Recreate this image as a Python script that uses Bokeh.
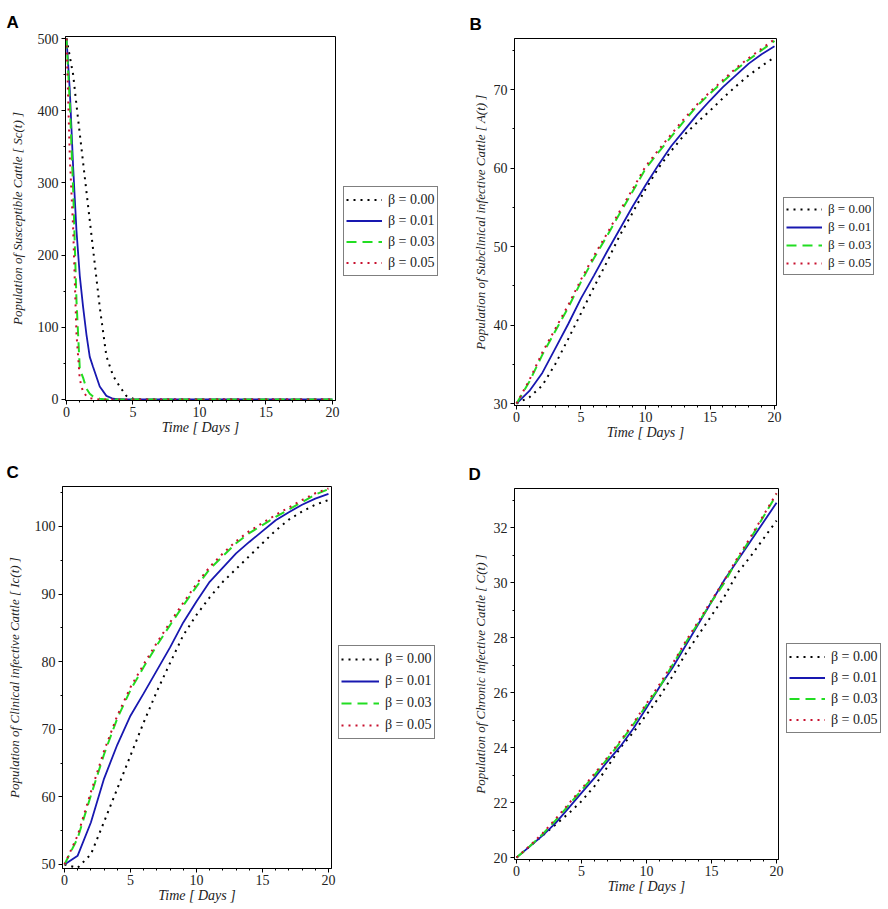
from bokeh.plotting import figure
from bokeh.models import FixedTicker, Legend, LegendItem, Range1d
from bokeh.layouts import column, row
from bokeh.embed import file_html
from bokeh.resources import INLINE

# ---------------- data ----------------
beta_labels = ["β = 0.00", "β = 0.01", "β = 0.03", "β = 0.05"]

# Panel A: susceptible cattle S_c(t)
t_a = [0, 0.25, 0.5, 0.75, 1, 1.25, 1.5, 1.75, 2, 2.5, 3, 3.5, 4, 4.5, 5, 6, 8, 10, 12, 14, 16, 18, 20]
sc_b000 = [500, 475, 450, 408, 368, 328, 288, 248, 208, 128, 60, 33, 18, 5, 1, 0, 0, 0, 0, 0, 0, 0, 0]
sc_b001 = [500, 428, 322, 234, 171, 128, 90, 59, 45, 18, 5, 1, 0.3, 0, 0, 0, 0, 0, 0, 0, 0, 0, 0]
sc_b003 = [500, 410, 291, 137, 42, 30, 15, 8, 4, 1, 0, 0, 0, 0, 0, 0, 0, 0, 0, 0, 0, 0, 0]
sc_b005 = [500, 335, 237, 91, 28, 10, 5, 2, 1, 0, 0, 0, 0, 0, 0, 0, 0, 0, 0, 0, 0, 0, 0]

# Panels B, C, D share a daily time grid
t_d = list(range(21))

# Panel B: subclinical infective A(t)
a_b000 = [30, 30.8, 32.3, 35.0, 38.2, 41.5, 44.8, 48.0, 51.4, 54.3, 57.3, 60.0, 62.2, 64.2, 65.8, 67.3, 68.9, 70.4, 71.8, 73.0, 74.1]
a_b001 = [30, 31.6, 33.9, 37.0, 40.1, 43.4, 46.3, 49.3, 52.2, 55.1, 57.8, 60.4, 62.8, 64.8, 66.8, 68.6, 70.3, 71.8, 73.3, 74.5, 75.5]
a_b003 = [30, 32.8, 36.2, 39.2, 42.2, 45.5, 48.5, 51.3, 54.2, 57.0, 59.9, 62.0, 64.0, 66.0, 67.9, 69.5, 71.0, 72.5, 73.8, 75.0, 76.2]
a_b005 = [30, 33.0, 36.5, 39.5, 42.5, 45.8, 48.8, 51.6, 54.5, 57.3, 60.2, 62.3, 64.3, 66.3, 68.1, 69.7, 71.2, 72.7, 74.0, 75.2, 76.4]

# Panel C: clinical infective I_c(t)
ic_b000 = [50, 49.5, 51.5, 56.3, 61.2, 66.1, 71.0, 75.6, 79.8, 83.9, 86.9, 89.5, 91.8, 93.7, 95.6, 97.5, 99.4, 101.0, 102.2, 103.2, 103.9]
ic_b001 = [50, 51.3, 56.2, 62.7, 67.7, 72.0, 75.3, 78.7, 82.1, 85.8, 88.9, 91.8, 93.9, 96.0, 97.7, 99.3, 100.9, 102.1, 103.2, 104.1, 104.8]
ic_b003 = [50, 53.9, 60.2, 66.3, 71.6, 75.8, 79.2, 82.4, 85.4, 88.3, 91.1, 93.7, 95.6, 97.5, 99.0, 100.2, 101.4, 102.5, 103.6, 104.7, 105.5]
ic_b005 = [50, 54.3, 60.7, 66.8, 72.0, 76.2, 79.6, 82.8, 85.8, 88.7, 91.5, 94.0, 96.0, 97.8, 99.3, 100.5, 101.7, 102.8, 103.9, 104.9, 105.6]

# Panel D: chronic infective C(t)
c_b000 = [20, 20.4, 20.8, 21.2, 21.6, 22.05, 22.6, 23.3, 24.0, 24.56, 25.2, 25.85, 26.6, 27.4, 28.1, 28.8, 29.5, 30.35, 30.95, 31.6, 32.25]
c_b001 = [20, 20.4, 20.8, 21.25, 21.8, 22.35, 22.9, 23.5, 24.05, 24.7, 25.45, 26.2, 26.9, 27.7, 28.5, 29.3, 30.1, 30.8, 31.5, 32.2, 32.9]
c_b003 = [20, 20.4, 20.85, 21.35, 21.9, 22.45, 23.0, 23.6, 24.2, 24.85, 25.55, 26.2, 27.0, 27.8, 28.55, 29.3, 30.0, 30.85, 31.6, 32.4, 33.2]
c_b005 = [20, 20.42, 20.88, 21.4, 21.95, 22.5, 23.05, 23.65, 24.25, 24.9, 25.6, 26.3, 27.05, 27.85, 28.6, 29.35, 30.1, 30.9, 31.65, 32.45, 33.25]

x_major = [0, 5, 10, 15, 20]
x_minor = list(range(21))

# ---------------- styles ----------------
colors = ["#000000", "#1818b0", "#22dd22", "#c8102e"]
dashes = ["2 5", "solid", "10 6", "2 5"]
widths = [2, 1.8, 2, 2]
SERIF = "Liberation Serif"


def make_panel(letter, ylabel, t, series, xr, yr, y_major, y_minor,
               h, borders, frame_w, title_offset, ylab_standoff,
               leg_w, leg_xy, leg_row, leg_font, leg_glyph):
    left, right, top, bottom = borders
    w = left + frame_w + right
    p = figure(width=w, height=h, x_range=Range1d(*xr), y_range=Range1d(*yr),
               output_backend="svg", toolbar_location=None,
               min_border_left=left, min_border_right=right,
               min_border_top=top, min_border_bottom=bottom,
               background_fill_color="white", border_fill_color="white")
    p.outline_line_color = "black"
    p.outline_line_width = 1
    p.outline_line_alpha = 1
    p.xgrid.visible = False
    p.ygrid.visible = False

    p.title.text = letter
    p.title.align = "left"
    p.title.offset = title_offset
    p.title.text_font = "Liberation Sans"
    p.title.text_font_style = "bold"
    p.title.text_font_size = "17px"
    p.title.text_color = "black"
    p.title.standoff = 9

    p.xaxis.ticker = FixedTicker(ticks=x_major, minor_ticks=x_minor)
    p.yaxis.ticker = FixedTicker(ticks=y_major, minor_ticks=y_minor)
    p.xaxis.axis_label = "Time [ Days ]"
    p.yaxis.axis_label = ylabel
    for ax in (p.xaxis[0], p.yaxis[0]):
        ax.axis_line_color = "black"
        ax.major_tick_line_color = "black"
        ax.minor_tick_line_color = "black"
        ax.major_tick_out = 4
        ax.major_tick_in = 0
        ax.minor_tick_out = 2
        ax.minor_tick_in = 0
        ax.major_label_text_font = SERIF
        ax.major_label_text_font_size = "14px"
        ax.major_label_text_color = "#222222"
        ax.major_label_standoff = 3
        ax.axis_label_text_font = SERIF
        ax.axis_label_text_font_style = "italic"
        ax.axis_label_text_color = "#222222"
    p.xaxis.major_label_standoff = 2
    p.xaxis.axis_label_standoff = 0
    p.yaxis.axis_label_standoff = ylab_standoff
    p.xaxis.axis_label_text_font_size = "14px"
    p.yaxis.axis_label_text_font_size = "13px"

    for ys, c, d, lw in zip(series, colors, dashes, widths):
        p.line(t, ys, line_color=c, line_dash=d, line_width=lw)

    # legend lives in its own narrow figure to the right of the panel;
    # its frame is aligned with the panel's frame by the row layout.
    lf = figure(width=leg_w, height=h, x_range=Range1d(-100, -99), y_range=Range1d(*yr),
                output_backend="svg", toolbar_location=None,
                min_border_left=0, min_border_right=0,
                min_border_top=top, min_border_bottom=bottom,
                background_fill_color="white", border_fill_color="white")
    lf.axis.visible = False
    lf.grid.visible = False
    lf.outline_line_color = None
    items = []
    for ys, c, d, lw, lab in zip(series, colors, dashes, widths, beta_labels):
        r = lf.line(t, ys, line_color=c, line_dash=d, line_width=lw)
        items.append(LegendItem(label=lab, renderers=[r]))
    legend = Legend(items=items, location=leg_xy,
                    border_line_color="black", border_line_width=1,
                    background_fill_color="white", background_fill_alpha=1,
                    padding=2, spacing=0, margin=0,
                    label_text_font=SERIF, label_text_font_size=leg_font,
                    label_text_color="#222222",
                    glyph_width=leg_glyph, glyph_height=leg_row, label_height=leg_row,
                    label_standoff=6)
    lf.add_layout(legend, "center")
    return row(p, lf)


pA = make_panel("A", "Population of Susceptible Cattle [ Sc(t) ]", t_a,
                [sc_b000, sc_b001, sc_b003, sc_b005],
                (-0.075, 20.23), (-1.4, 502.8),
                [0, 100, 200, 300, 400, 500], list(range(0, 501, 50)),
                450, (65, 8, 36, 50), 270, -59, 10, 97, (0, 124), 21, "14px", 36)
pB = make_panel("B", "Population of Subclinical infective Cattle [ A(t) ]", t_d,
                [a_b000, a_b001, a_b003, a_b005],
                (-0.155, 20.155), (29.75, 76.5),
                [30, 40, 50, 60, 70], list(range(30, 76, 5)),
                450, (74, 7, 38, 45), 262, -45, 3, 105, (0, 130), 18, "13px", 36)
pC = make_panel("C", "Population of Clinical infective Cattle [ Ic(t) ]", t_d,
                [ic_b000, ic_b001, ic_b003, ic_b005],
                (-0.15, 20.23), (49.4, 105.9),
                [50, 60, 70, 80, 90, 100], list(range(50, 106, 5)),
                457, (62, 7, 36, 39), 269, -56, 10, 102, (0, 129), 22, "14px", 38)
pD = make_panel("D", "Population of Chronic infective Cattle [ C(t) ]", t_d,
                [c_b000, c_b001, c_b003, c_b005],
                (-0.154, 20.15), (19.93, 33.42),
                [20, 22, 24, 26, 28, 30, 32], list(range(20, 34)),
                457, (74, 8, 38, 48), 264, -46, 3, 102, (0, 126), 21, "14px", 36)

layout = column(row(pA, pB), row(pC, pD))
open("out.html", "w").write(file_html(layout, INLINE))
